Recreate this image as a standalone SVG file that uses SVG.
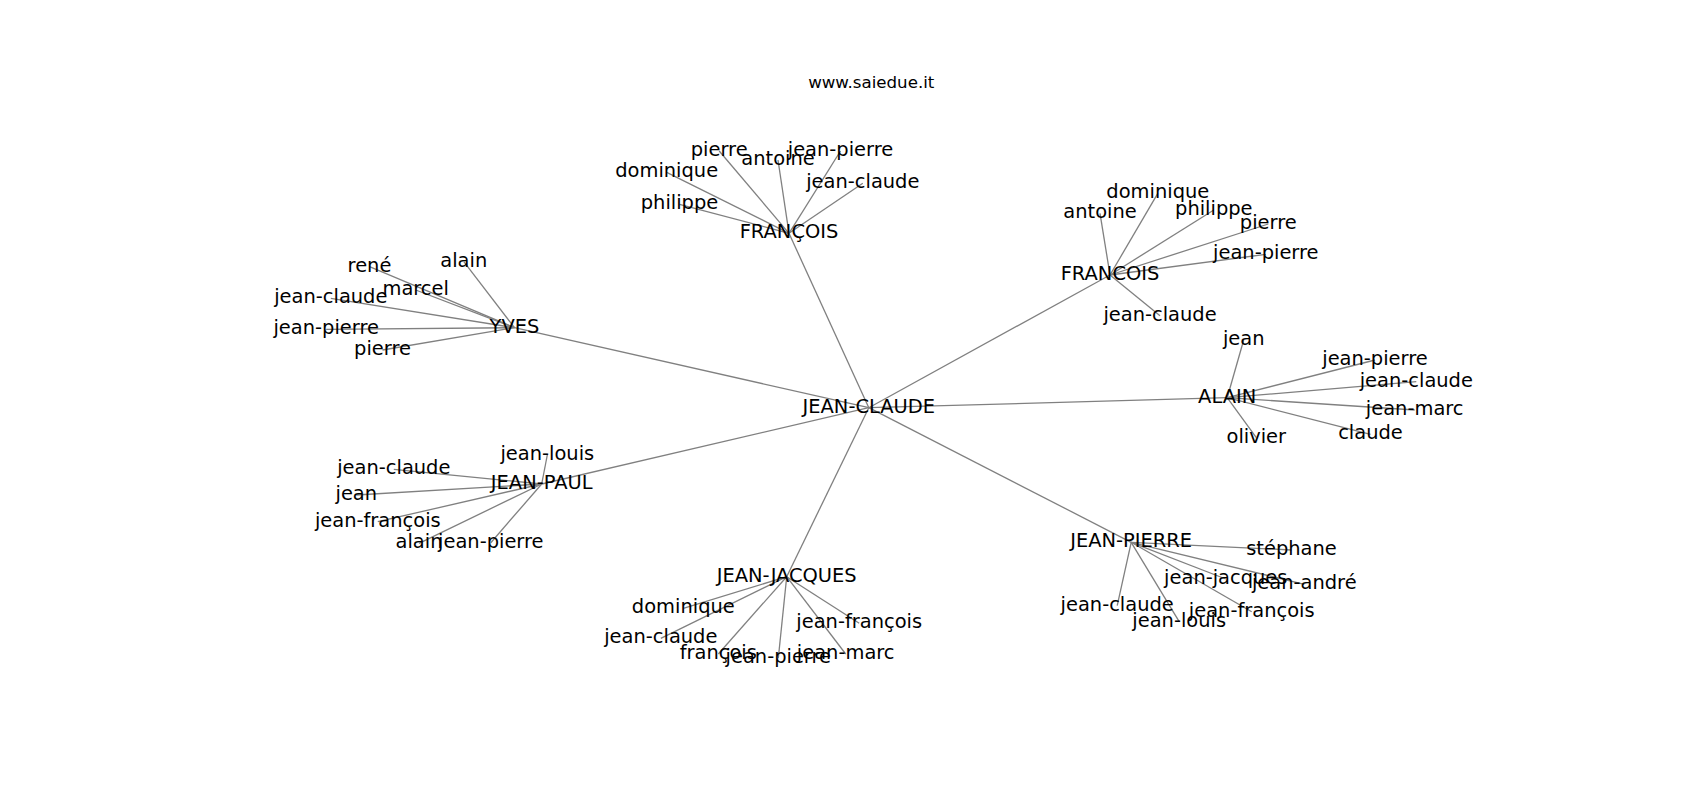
<svg xmlns="http://www.w3.org/2000/svg" width="1700" height="800" viewBox="0 0 1700 800">
<style>
text{font-family:"DejaVu Sans","Liberation Sans",sans-serif;fill:#000;text-anchor:middle}
.l{font-size:19.44px}
.t{font-size:16.67px}
#edges line{stroke:#808080;stroke-width:1.3}
</style>
<rect width="1700" height="800" fill="#fff"/>
<text class="t" x="871.25" y="87.5">www.saiedue.it</text>
<g id="edges">
<line x1="868.8" y1="407.7" x2="789" y2="233.3"/>
<line x1="868.8" y1="407.7" x2="1110" y2="275"/>
<line x1="868.8" y1="407.7" x2="514.5" y2="327.7"/>
<line x1="868.8" y1="407.7" x2="1227.2" y2="397.7"/>
<line x1="868.8" y1="407.7" x2="1131.2" y2="542.3"/>
<line x1="868.8" y1="407.7" x2="786.7" y2="576.7"/>
<line x1="868.8" y1="407.7" x2="541.7" y2="484"/>
<line x1="789" y1="233.3" x2="719.2" y2="151"/>
<line x1="789" y1="233.3" x2="778" y2="160"/>
<line x1="789" y1="233.3" x2="840.5" y2="151"/>
<line x1="789" y1="233.3" x2="666.7" y2="172.3"/>
<line x1="789" y1="233.3" x2="862.8" y2="183.3"/>
<line x1="789" y1="233.3" x2="679.5" y2="204.3"/>
<line x1="1110" y1="275" x2="1157.8" y2="193.3"/>
<line x1="1110" y1="275" x2="1100" y2="213.3"/>
<line x1="1110" y1="275" x2="1213.8" y2="210"/>
<line x1="1110" y1="275" x2="1268.3" y2="224"/>
<line x1="1110" y1="275" x2="1265.8" y2="254.3"/>
<line x1="1110" y1="275" x2="1160" y2="315.7"/>
<line x1="514.5" y1="327.7" x2="369.5" y2="266.7"/>
<line x1="514.5" y1="327.7" x2="463.8" y2="261.7"/>
<line x1="514.5" y1="327.7" x2="415.7" y2="290"/>
<line x1="514.5" y1="327.7" x2="330.8" y2="298.3"/>
<line x1="514.5" y1="327.7" x2="326.2" y2="329.3"/>
<line x1="514.5" y1="327.7" x2="382.5" y2="350"/>
<line x1="1227.2" y1="397.7" x2="1243.7" y2="340"/>
<line x1="1227.2" y1="397.7" x2="1375" y2="360"/>
<line x1="1227.2" y1="397.7" x2="1416.3" y2="381.7"/>
<line x1="1227.2" y1="397.7" x2="1414.7" y2="410"/>
<line x1="1227.2" y1="397.7" x2="1256.3" y2="437.7"/>
<line x1="1227.2" y1="397.7" x2="1370.5" y2="434.3"/>
<line x1="1131.2" y1="542.3" x2="1291.5" y2="550"/>
<line x1="1131.2" y1="542.3" x2="1225.8" y2="579"/>
<line x1="1131.2" y1="542.3" x2="1304.3" y2="584.3"/>
<line x1="1131.2" y1="542.3" x2="1117.2" y2="605.7"/>
<line x1="1131.2" y1="542.3" x2="1251.7" y2="611.7"/>
<line x1="1131.2" y1="542.3" x2="1179.2" y2="621.7"/>
<line x1="786.7" y1="576.7" x2="683.3" y2="608.3"/>
<line x1="786.7" y1="576.7" x2="859.2" y2="623.3"/>
<line x1="786.7" y1="576.7" x2="660.8" y2="638.3"/>
<line x1="786.7" y1="576.7" x2="718.3" y2="654"/>
<line x1="786.7" y1="576.7" x2="778.3" y2="658.3"/>
<line x1="786.7" y1="576.7" x2="845.7" y2="654"/>
<line x1="541.7" y1="484" x2="547.3" y2="455"/>
<line x1="541.7" y1="484" x2="393.8" y2="469.3"/>
<line x1="541.7" y1="484" x2="356.3" y2="495"/>
<line x1="541.7" y1="484" x2="377.8" y2="521.7"/>
<line x1="541.7" y1="484" x2="419" y2="543.3"/>
<line x1="541.7" y1="484" x2="490.8" y2="542.7"/>
</g>
<g id="n-jean-claude"><text class="l" x="868.8" y="412.7">JEAN-CLAUDE</text></g>
<g id="n-francois-cedil"><text class="l" x="789" y="238.3">FRANÇOIS</text></g>
<g id="n-francois-cedil-pierre"><text class="l" x="719.2" y="156">pierre</text></g>
<g id="n-francois-cedil-antoine"><text class="l" x="778" y="165">antoine</text></g>
<g id="n-francois-cedil-jean-pierre"><text class="l" x="840.5" y="156">jean-pierre</text></g>
<g id="n-francois-cedil-dominique"><text class="l" x="666.7" y="177.3">dominique</text></g>
<g id="n-francois-cedil-jean-claude"><text class="l" x="862.8" y="188.3">jean-claude</text></g>
<g id="n-francois-cedil-philippe"><text class="l" x="679.5" y="209.3">philippe</text></g>
<g id="n-francois"><text class="l" x="1110" y="280">FRANCOIS</text></g>
<g id="n-francois-dominique"><text class="l" x="1157.8" y="198.3">dominique</text></g>
<g id="n-francois-antoine"><text class="l" x="1100" y="218.3">antoine</text></g>
<g id="n-francois-philippe"><text class="l" x="1213.8" y="215">philippe</text></g>
<g id="n-francois-pierre"><text class="l" x="1268.3" y="229">pierre</text></g>
<g id="n-francois-jean-pierre"><text class="l" x="1265.8" y="259.3">jean-pierre</text></g>
<g id="n-francois-jean-claude"><text class="l" x="1160" y="320.7">jean-claude</text></g>
<g id="n-yves"><text class="l" x="514.5" y="332.7">YVES</text></g>
<g id="n-yves-rene"><text class="l" x="369.5" y="271.7">rené</text></g>
<g id="n-yves-alain"><text class="l" x="463.8" y="266.7">alain</text></g>
<g id="n-yves-marcel"><text class="l" x="415.7" y="295">marcel</text></g>
<g id="n-yves-jean-claude"><text class="l" x="330.8" y="303.3">jean-claude</text></g>
<g id="n-yves-jean-pierre"><text class="l" x="326.2" y="334.3">jean-pierre</text></g>
<g id="n-yves-pierre"><text class="l" x="382.5" y="355">pierre</text></g>
<g id="n-alain"><text class="l" x="1227.2" y="402.7">ALAIN</text></g>
<g id="n-alain-jean"><text class="l" x="1243.7" y="345">jean</text></g>
<g id="n-alain-jean-pierre"><text class="l" x="1375" y="365">jean-pierre</text></g>
<g id="n-alain-jean-claude"><text class="l" x="1416.3" y="386.7">jean-claude</text></g>
<g id="n-alain-jean-marc"><text class="l" x="1414.7" y="415">jean-marc</text></g>
<g id="n-alain-olivier"><text class="l" x="1256.3" y="442.7">olivier</text></g>
<g id="n-alain-claude"><text class="l" x="1370.5" y="439.3">claude</text></g>
<g id="n-jean-pierre"><text class="l" x="1131.2" y="547.3">JEAN-PIERRE</text></g>
<g id="n-jp-stephane"><text class="l" x="1291.5" y="555">stéphane</text></g>
<g id="n-jp-jean-jacques"><text class="l" x="1225.8" y="584">jean-jacques</text></g>
<g id="n-jp-jean-andre"><text class="l" x="1304.3" y="589.3">jean-andré</text></g>
<g id="n-jp-jean-claude"><text class="l" x="1117.2" y="610.7">jean-claude</text></g>
<g id="n-jp-jean-francois"><text class="l" x="1251.7" y="616.7">jean-françois</text></g>
<g id="n-jp-jean-louis"><text class="l" x="1179.2" y="626.7">jean-louis</text></g>
<g id="n-jean-jacques"><text class="l" x="786.7" y="581.7">JEAN-JACQUES</text></g>
<g id="n-jj-dominique"><text class="l" x="683.3" y="613.3">dominique</text></g>
<g id="n-jj-jean-francois"><text class="l" x="859.2" y="628.3">jean-françois</text></g>
<g id="n-jj-jean-claude"><text class="l" x="660.8" y="643.3">jean-claude</text></g>
<g id="n-jj-francois"><text class="l" x="718.3" y="659">françois</text></g>
<g id="n-jj-jean-pierre"><text class="l" x="778.3" y="663.3">jean-pierre</text></g>
<g id="n-jj-jean-marc"><text class="l" x="845.7" y="659">jean-marc</text></g>
<g id="n-jean-paul"><text class="l" x="541.7" y="489">JEAN-PAUL</text></g>
<g id="n-jpa-jean-louis"><text class="l" x="547.3" y="460">jean-louis</text></g>
<g id="n-jpa-jean-claude"><text class="l" x="393.8" y="474.3">jean-claude</text></g>
<g id="n-jpa-jean"><text class="l" x="356.3" y="500">jean</text></g>
<g id="n-jpa-jean-francois"><text class="l" x="377.8" y="526.7">jean-françois</text></g>
<g id="n-jpa-alain"><text class="l" x="419" y="548.3">alain</text></g>
<g id="n-jpa-jean-pierre"><text class="l" x="490.8" y="547.7">jean-pierre</text></g>
</svg>
